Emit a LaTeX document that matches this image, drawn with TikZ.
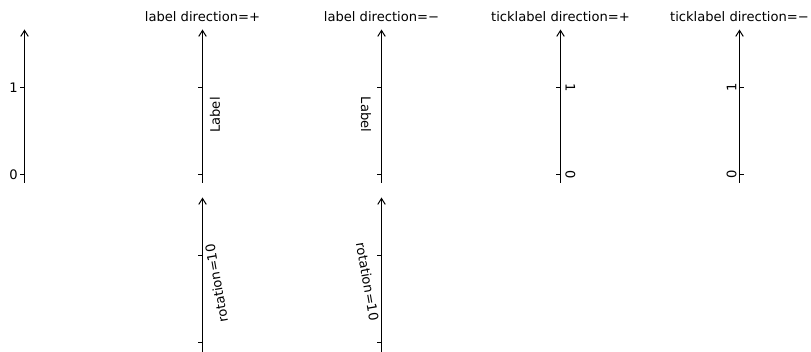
\documentclass[tikz,border=0pt]{standalone}
\usepackage{fontspec}
\setmainfont{DejaVu Sans}
\usetikzlibrary{arrows.meta}
\begin{document}
\begin{tikzpicture}[x=1pt,y=-1pt,
  axisline/.style={line width=1pt, -{Straight Barb[length=6pt,width=7.5pt,line width=1pt]}},
  tickmark/.style={line width=1pt},
  txt/.style={font=\fontsize{13.1}{15}\selectfont, inner sep=0pt, text=black},
]
\useasboundingbox (0,0) rectangle (811,352);

% ---------- top row axes ----------
\foreach \n/\x in {1/24.5,2/202.5,3/381.5,4/560.5,5/739.5}{
  \coordinate (b\n) at (\x,183);
  \coordinate (t\n) at (\x,29.5);
  \draw[axisline] (b\n) -- (t\n);
  \coordinate (u\n) at (\x,87.5);
  \coordinate (z\n) at (\x,174.5);
}
% bottom row axes
\foreach \n/\x in {7/202.5,8/381.5}{
  \coordinate (b\n) at (\x,352);
  \coordinate (t\n) at (\x,197.5);
  \draw[axisline] (b\n) -- (t\n);
  \coordinate (u\n) at (\x,255.5);
  \coordinate (z\n) at (\x,342.5);
}

% ticks on the left
\foreach \n in {1,2,3,4,7,8}{
  \draw[tickmark] (u\n) -- ++(-4.5,0);
  \draw[tickmark] (z\n) -- ++(-4.5,0);
}
% ticks on the right
\draw[tickmark] (u5) -- ++(4.5,0);
\draw[tickmark] (z5) -- ++(4.5,0);

% ---------- titles ----------
\node[txt] (ti2) at (202.5,16.5) {label direction=+};
\node[txt] (ti3) at (381.5,16.5) {label direction=−};
\node[txt] (ti4) at (560.5,16.5) {ticklabel direction=+};
\node[txt] (ti5) at (739.5,16.5) {ticklabel direction=−};

% ---------- tick labels ----------
\node[txt] (l1a) at (13.5,87.3) {1};
\node[txt] (l1b) at (13.5,174.3) {0};
\node[txt, rotate=-90] (l4a) at (570.5,87.3) {1};
\node[txt, rotate=-90] (l4b) at (570.5,174.3) {0};
\node[txt, rotate=90] (l5a) at (731.5,87.3) {1};
\node[txt, rotate=90] (l5b) at (731.5,174.3) {0};

% ---------- axis labels ----------
\node[txt, rotate=90] (lab2) at (215,115) {Label};
\node[txt, rotate=-90] (lab3) at (366,114.5) {Label};
\node[txt, rotate=100] (rot7) at (216.5,283.5) {rotation=10};
\node[txt, rotate=-80] (rot8) at (367.5,281.5) {rotation=10};
\end{tikzpicture}
\end{document}
